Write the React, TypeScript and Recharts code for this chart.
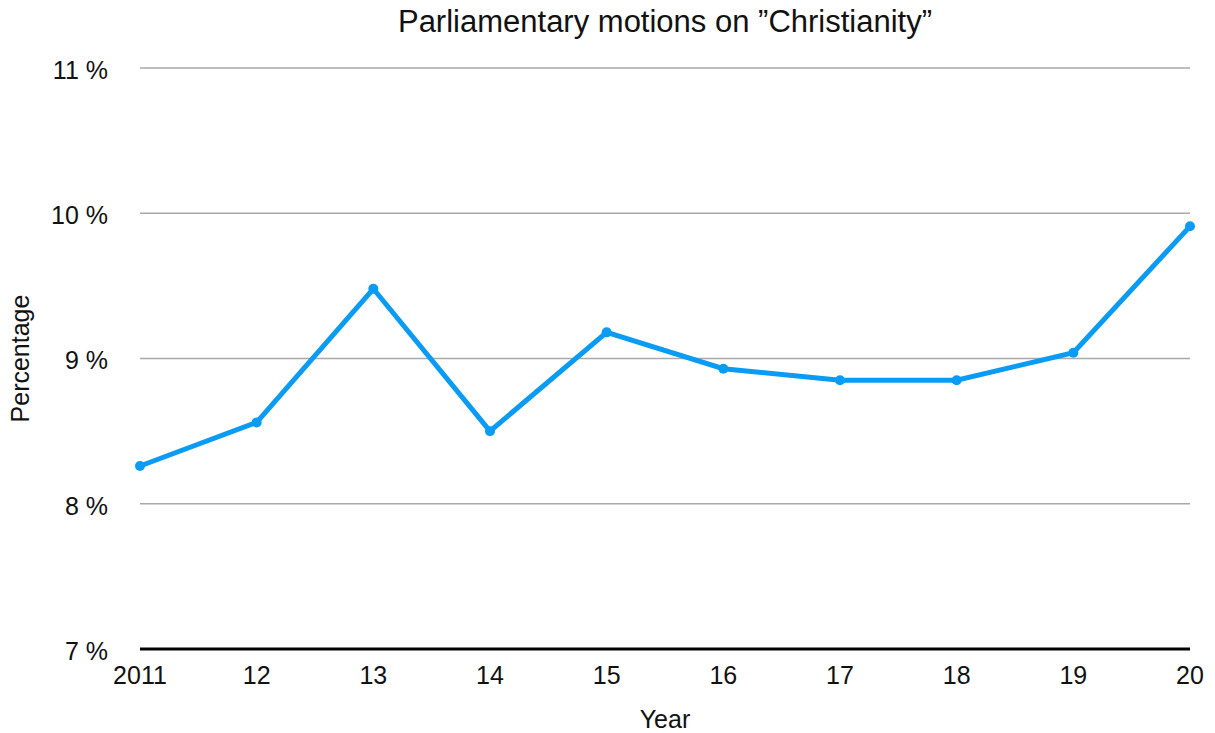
import { LineChart, Line, XAxis, YAxis, CartesianGrid } from 'recharts'

const years = ['2011', '12', '13', '14', '15', '16', '17', '18', '19', '20']
const shares = [8.26, 8.56, 9.48, 8.5, 9.18, 8.93, 8.85, 8.85, 9.04, 9.91]
const yTicks = [7, 8, 9, 10, 11]

const data = years.map((year, i) => ({ year, share: shares[i] }))

const FONT = '"Liberation Sans", Arial, Helvetica, sans-serif'
const BLUE = '#0a9cf5'
const TEXT = '#111'

export default function App() {
  return (
    <div style={{ position: 'absolute', left: 0, top: 0, width: 1215, height: 733, background: '#fff', fontFamily: FONT }}>
      <div
        style={{
          position: 'absolute', left: 140, top: 4, width: 1050,
          textAlign: 'center', fontSize: 31, color: TEXT, lineHeight: '36px'
        }}
      >
        Parliamentary motions on ”Christianity”
      </div>
      <LineChart
        width={1215}
        height={733}
        data={data}
        margin={{ top: 68, right: 25, left: 0, bottom: 0 }}
      >
        <CartesianGrid vertical={false} stroke="#a9a9a9" strokeWidth={1.5} />
        <XAxis
          dataKey="year"
          height={84}
          tickLine={false}
          axisLine={{ stroke: '#000', strokeWidth: 3 }}
          tickMargin={11}
          tick={{ fontSize: 25, fill: TEXT, fontFamily: FONT }}
          interval={0}
          label={{ value: 'Year', position: 'insideBottom', offset: 5, fontSize: 25, fill: TEXT, fontFamily: FONT }}
        />
        <YAxis
          width={140}
          domain={[7, 11]}
          ticks={yTicks}
          tickLine={false}
          axisLine={false}
          tickMargin={26}
          tickFormatter={(v: number) => `${v} %`}
          tick={{ fontSize: 25, fill: TEXT, fontFamily: FONT, dy: 2 }}
          label={{
            value: 'Percentage', angle: -90, position: 'insideLeft', offset: 20,
            fontSize: 25, fill: TEXT, fontFamily: FONT, style: { textAnchor: 'middle' }
          }}
        />
        <Line
          type="linear"
          dataKey="share"
          stroke={BLUE}
          strokeWidth={5}
          dot={{ r: 5, fill: BLUE, stroke: BLUE, strokeWidth: 0 }}
          activeDot={false}
          isAnimationActive={false}
        />
      </LineChart>
    </div>
  )
}
